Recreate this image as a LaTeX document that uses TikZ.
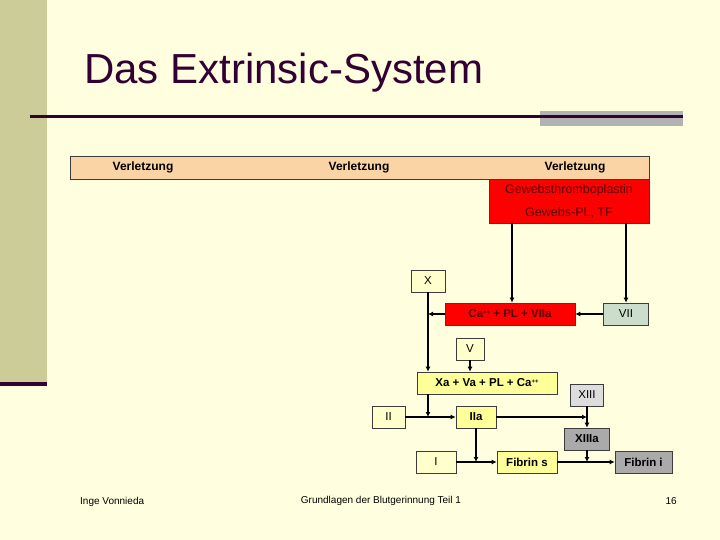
\documentclass[tikz,border=0pt]{standalone}
\usepackage{fontspec}
\setmainfont{Liberation Sans}
\usetikzlibrary{arrows.meta}
\definecolor{bg}{RGB}{255,255,224}
\definecolor{band}{RGB}{204,204,153}
\definecolor{darkpurple}{RGB}{51,0,51}
\definecolor{greybar}{RGB}{178,178,178}
\definecolor{peach}{RGB}{251,212,166}
\definecolor{redbox}{RGB}{255,0,0}
\definecolor{redtext}{RGB}{85,0,0}
\definecolor{paleyellow}{RGB}{255,255,204}
\definecolor{yellowbox}{RGB}{255,255,153}
\definecolor{greenbox}{RGB}{204,221,204}
\definecolor{lightgrey}{RGB}{221,221,221}
\definecolor{midgrey}{RGB}{170,170,170}
\definecolor{boxline}{RGB}{60,60,60}
\newcommand{\plusplus}{\raisebox{0.6ex}{\fontsize{6}{6}\selectfont ++}}
\begin{document}
\begin{tikzpicture}[x=1pt,y=-1pt,
  fbox/.style={draw=boxline,line width=0.6pt,rectangle,inner sep=0pt,
    font=\fontsize{11.5}{12}\selectfont},
  pale/.style={fbox,fill=paleyellow},
  yel/.style={fbox,fill=yellowbox,font=\fontsize{11.5}{12}\selectfont\bfseries},
  redb/.style={fbox,fill=redbox,text=redtext},
  lbl/.style={inner sep=0pt,font=\fontsize{12}{13}\selectfont\bfseries},
  tflbl/.style={inner sep=0pt,text=redtext,font=\fontsize{12.5}{13}\selectfont},
  foot/.style={inner sep=0pt,font=\fontsize{10}{11}\selectfont},
  arr/.style={line width=1.5pt,-{Latex[length=5pt,width=5pt]}}]
\useasboundingbox (0,0) rectangle (720,540);
\fill[bg] (0,0) rectangle (720,540);
% left band
\fill[band] (0,0) rectangle (47,382);
\fill[darkpurple] (0,382) rectangle (47,386);
% title
\node[anchor=base west,inner sep=0pt,text=darkpurple,font=\fontsize{42}{44}\selectfont] (title) at (84,84) {Das Extrinsic-System};
\fill[greybar] (540,111) rectangle (683,126);
\draw[darkpurple,line width=3pt] (30,117) -- (683,117);
% Verletzung bar
\node[fbox,fill=peach,minimum width=579pt,minimum height=23pt] (bar) at (359.5,167.5) {};
\node[lbl] (v1) at (143,167.5) {Verletzung};
\node[lbl] (v2) at (359,167.5) {Verletzung};
\node[lbl] (v3) at (575,167.5) {Verletzung};
% tissue factor
\node[redb,minimum width=160pt,minimum height=44pt] (TF) at (569,201) {};
\node[tflbl] (TFa) at (569,190) {Gewebsthromboplastin};
\node[tflbl] (TFb) at (569,213) {Gewebs-PL, TF};
% boxes
\node[pale,minimum width=34pt,minimum height=22pt] (X) at (428,281) {X};
\node[redb,font=\fontsize{11.5}{12}\selectfont\bfseries,minimum width=130pt,minimum height=22pt] (Ca) at (510,314) {Ca\plusplus{} + PL + VIIa};
\node[fbox,fill=greenbox,minimum width=45pt,minimum height=22pt] (VII) at (626,314) {VII};
\node[pale,minimum width=28pt,minimum height=22pt] (V) at (470,349) {V};
\node[yel,minimum width=140pt,minimum height=22pt] (Xa) at (487,383) {Xa + Va + PL + Ca\plusplus};
\node[fbox,fill=lightgrey,minimum width=33pt,minimum height=22pt] (XIII) at (587,395) {XIII};
\node[pale,minimum width=33pt,minimum height=22pt] (II) at (388.5,417) {II};
\node[yel,minimum width=40pt,minimum height=22pt] (IIa) at (476,417) {IIa};
\node[fbox,fill=midgrey,font=\fontsize{11.5}{12}\selectfont\bfseries,minimum width=45pt,minimum height=22pt] (XIIIa) at (587,439) {XIIIa};
\node[pale,minimum width=40pt,minimum height=22pt] (I) at (436,462) {I};
\node[yel,minimum width=60pt,minimum height=22pt] (Fs) at (527,462) {Fibrin s};
\node[fbox,fill=midgrey,font=\fontsize{11.5}{12}\selectfont\bfseries,minimum width=57pt,minimum height=22pt] (Fi) at (643.5,462) {Fibrin i};
% connectors
\coordinate (t1) at (512,223);
\coordinate (t2) at (626,223);
\draw[arr] (t1) -- (t1 |- Ca.north);
\draw[arr] (t2) -- (VII.north);
\draw[arr] (VII.west) -- (Ca.east);
\coordinate (xj) at (X.south |- Ca.west);
\draw[arr] (Ca.west) -- (xj);
\draw[arr] (X.south) -- (X.south |- Xa.north);
\draw[arr] (V.south) -- (V.south |- Xa.north);
\draw[arr] (II.east) -- (IIa.west);
\coordinate (xaj) at (X.south |- II.east);
\draw[arr] (X.south |- Xa.south) -- (xaj);
\coordinate (xiiij) at (XIII.south |- IIa.east);
\draw[arr] (IIa.east) -- (xiiij);
\draw[arr] (XIII.south) -- (XIIIa.north);
\draw[arr] (I.east) -- (Fs.west);
\coordinate (iiaj) at (IIa.south |- I.east);
\draw[arr] (IIa.south) -- (iiaj);
\draw[arr] (Fs.east) -- (Fi.west);
\coordinate (fj) at (XIIIa.south |- Fs.east);
\draw[arr] (XIIIa.south) -- (fj);
% footer
\node[foot,anchor=west] (f1) at (80,502) {Inge Vonnieda};
\node[foot] (f2) at (381,501) {Grundlagen der Blutgerinnung Teil 1};
\node[foot,anchor=east] (f3) at (677,501) {16};
\end{tikzpicture}
\end{document}
